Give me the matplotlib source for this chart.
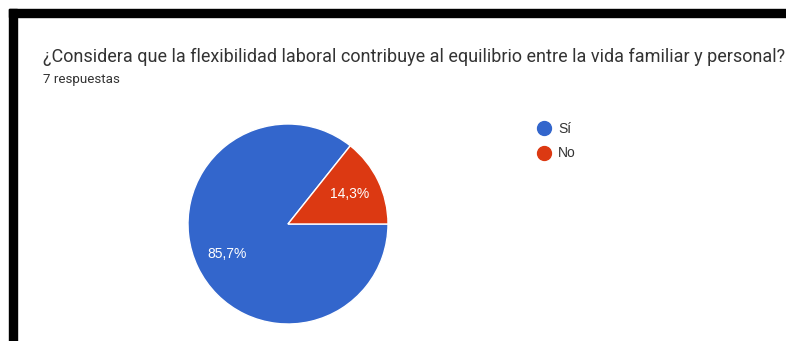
import matplotlib.pyplot as plt
from matplotlib.lines import Line2D

plt.rcParams['font.family'] = ['Roboto', 'DejaVu Sans']

title = "¿Considera que la flexibilidad laboral contribuye al equilibrio entre la vida familiar y personal?"
subtitle = "7 respuestas"
labels = ["Sí", "No"]
values = [85.7, 14.3]
colors = ["#3366cc", "#dc3912"]

W, H = 786, 341
fig = plt.figure(figsize=(W / 100, H / 100), dpi=100)
fig.patch.set_facecolor("white")

def px(x, y):
    return x / W, 1 - y / H

# black frame on top and left
fig.patches.append(plt.Rectangle(px(9, 17), (W - 9) / W, 8 / H, transform=fig.transFigure,
                                 color="black", zorder=0))
fig.patches.append(plt.Rectangle(px(9, H), 8 / W, (H - 9) / H, transform=fig.transFigure,
                                 color="black", zorder=0))

fig.text(*px(43, 57), title, fontsize=13.0, color="#333333", va="center", ha="left")
fig.text(*px(43, 80), subtitle, fontsize=9.6, color="#333333", va="center", ha="left")

# pie
cx, cy, r = 288, 224, 101
ax = fig.add_axes([(cx - r) / W, (H - cy - r) / H, 2 * r / W, 2 * r / H])
wedges, texts, autotexts = ax.pie(
    values, colors=colors, startangle=360 * values[1] / 100, counterclock=True,
    autopct=lambda p: f"{p:.1f}%".replace(".", ","), pctdistance=0.68,
    wedgeprops=dict(edgecolor="white", linewidth=1),
    textprops=dict(color="white", fontsize=10.0, family="Liberation Sans"))
ax.set_xlim(-1.01, 1.01)
ax.set_ylim(-1.01, 1.01)
ax.set_aspect("equal")

handles = [Line2D([], [], marker="o", linestyle="none", markersize=10,
                  markerfacecolor=c, markeredgecolor=c) for c in colors]
fig.legend(handles, labels, loc="upper left", bbox_to_anchor=px(536, 122),
           frameon=False, handletextpad=0.4, labelspacing=0.75,
           handlelength=1.2, borderpad=0, borderaxespad=0, labelcolor="#333333",
           prop=dict(family="Liberation Sans", size=10))

fig.savefig("out.png", dpi=100)
